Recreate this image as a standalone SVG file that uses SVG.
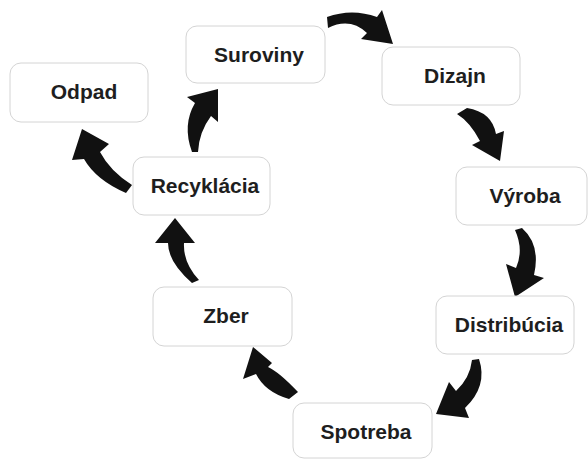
<svg xmlns="http://www.w3.org/2000/svg" width="588" height="460" viewBox="0 0 588 460">
<style>
.box{fill:#fff;stroke:#d4d4d4;stroke-width:1}
.lbl{font-family:"Liberation Sans",Arial,sans-serif;font-weight:bold;font-size:21px;fill:#1e1e1e;text-anchor:middle}
.arr{fill:#111}
</style>
<rect width="588" height="460" fill="#fff"/>
<g id="connectors">
<path class="arr" d="M327,17 Q352,8 377,17 L382,10 L393,44 L361,39 L367,33 Q350,17 328,28 Z"/>
<path class="arr" d="M457,114 L467,108 Q492,112 496,134 L504,131 L500,161 L472,145 L480,141 Q470,122 457,114 Z"/>
<path class="arr" d="M515,230 L522,228 Q541,245 534,275 L544,278 L515,297 L506,264 L516,268 Q524,250 515,230 Z"/>
<path class="arr" d="M472,360 L479,359 Q488,386 465,408 L469,418 L436,414 L449,382 L456,391 Q470,378 472,360 Z"/>
<path class="arr" d="M298,392 L289,399 Q265,392 256,374 L243,379 L253,347 L272,363 L268,367 Q279,372 298,392 Z"/>
<path class="arr" d="M192,283 Q168,262 168,243 L155,243 L175,218 L195,243 L184,243 Q183,263 199,280 Z"/>
<path class="arr" d="M126,193 Q96,180 84,159 L72,160 L82,129 L109,144 L100,152 Q110,171 132,185 Z"/>
<path class="arr" d="M192,152 Q182,125 195,103 L187,97 L218,89 L218,122 L211,116 Q199,132 198,152 Z"/>
</g>
<g id="odpad"><rect class="box" x="10" y="63" width="138" height="59" rx="11"/><text class="lbl" x="84" y="99">Odpad</text></g>
<g id="suroviny"><rect class="box" x="186" y="26" width="139" height="57" rx="11"/><text class="lbl" x="259" y="62">Suroviny</text></g>
<g id="dizajn"><rect class="box" x="382" y="47" width="138" height="58" rx="11"/><text class="lbl" x="455" y="83">Dizajn</text></g>
<g id="recyklacia"><rect class="box" x="133" y="157" width="137" height="58" rx="11"/><text class="lbl" x="205" y="193">Recyklácia</text></g>
<g id="vyroba"><rect class="box" x="456" y="167" width="131" height="58" rx="11"/><text class="lbl" x="525" y="203">Výroba</text></g>
<g id="zber"><rect class="box" x="153" y="287" width="139" height="59" rx="11"/><text class="lbl" x="226" y="323">Zber</text></g>
<g id="distribucia"><rect class="box" x="436" y="296" width="138" height="58" rx="11"/><text class="lbl" x="509" y="332">Distribúcia</text></g>
<g id="spotreba"><rect class="box" x="293" y="403" width="139" height="55" rx="11"/><text class="lbl" x="366" y="439">Spotreba</text></g>
</svg>
